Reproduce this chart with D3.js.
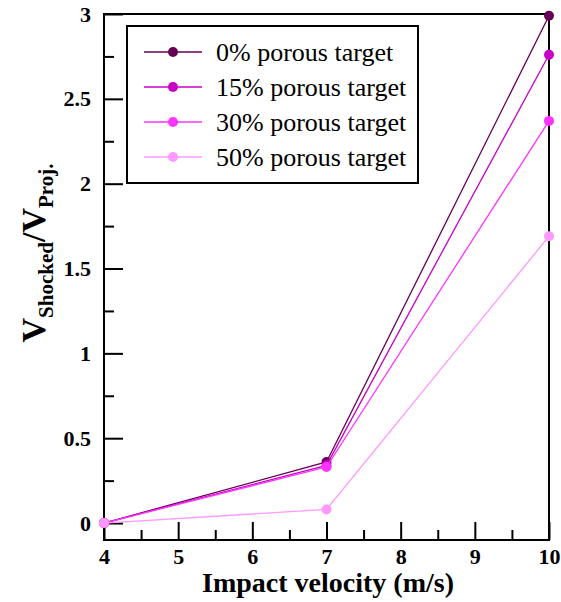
<!DOCTYPE html>
<html>
<head>
<meta charset="utf-8">
<script src="https://cdn.jsdelivr.net/npm/d3@7"></script>
<style>
  body { margin: 0; background: #fff; }
  svg { display: block; }
</style>
</head>
<body>
<svg></svg>
<script>
// chart data
let velocities = [4, 7, 10]
let seriesNames = ['0% porous target', '15% porous target', '30% porous target', '50% porous target']
let porous0 = [0, 0.36, 2.99]
let porous15 = [0, 0.34, 2.76]
let porous30 = [0, 0.33, 2.37]
let porous50 = [0, 0.08, 1.69]
let colors = ['#660055', '#c800c8', '#ff33ff', '#ff99ff']
let xTicks = [4, 5, 6, 7, 8, 9, 10]
let yTicks = [0, 0.5, 1, 1.5, 2, 2.5, 3]

let width = 561
let height = 602
let plotLeft = 104, plotRight = 549, plotTop = 14, plotBottom = 540

let svg = d3.select('svg')
            .attr('width', width)
            .attr('height', height)

let x = d3.scaleLinear().domain([4, 10]).range([plotLeft, plotRight])
let y = d3.scaleLinear().domain([-0.1, 3]).range([plotBottom, plotTop])

// frame
svg.append('rect')
    .attr('x', plotLeft).attr('y', plotTop)
    .attr('width', plotRight - plotLeft).attr('height', plotBottom - plotTop)
    .attr('fill', 'none').attr('stroke', '#000').attr('stroke-width', 2)

// ticks point inward
let xAxis = d3.axisBottom(x).tickValues(xTicks).tickSize(-18).tickPadding(8).tickFormat(d3.format('d'))
svg.append('g').attr('transform', `translate(0,${plotBottom})`).call(xAxis)
let xMinor = d3.axisBottom(x).tickValues(d3.range(4.5, 10, 1)).tickSize(-10).tickFormat('')
svg.append('g').attr('transform', `translate(0,${plotBottom})`).call(xMinor)

let yAxis = d3.axisLeft(y).tickValues(yTicks).tickSize(-19).tickPadding(13).tickFormat(d => d)
svg.append('g').attr('transform', `translate(${plotLeft},0)`).call(yAxis)
let yMinor = d3.axisLeft(y).tickValues(d3.range(0.25, 3, 0.5)).tickSize(-10).tickFormat('')
svg.append('g').attr('transform', `translate(${plotLeft},0)`).call(yMinor)

svg.selectAll('.domain').remove()
svg.selectAll('.tick line').attr('stroke', '#000').attr('stroke-width', 2)
svg.selectAll('.tick text')
    .attr('font-size', 22)
    .attr('font-weight', 'bold')
    .attr('fill', '#000')

// series
let series = [porous0, porous15, porous30, porous50]
let line = d3.line().x((d, i) => x(velocities[i])).y(d => y(d))

series.forEach((vals, k) => {
    let g = svg.append('g')
    g.append('path')
        .attr('d', line(vals))
        .attr('fill', 'none')
        .attr('stroke', colors[k])
        .attr('stroke-width', 1.3)
    g.selectAll('circle')
        .data(vals)
        .enter()
        .append('circle')
        .attr('cx', (d, i) => x(velocities[i]))
        .attr('cy', d => y(d))
        .attr('r', 5)
        .attr('fill', colors[k])
})

// legend
let legend = svg.append('g')
legend.append('rect')
    .attr('x', 127).attr('y', 26)
    .attr('width', 291).attr('height', 157)
    .attr('fill', '#fff').attr('stroke', '#000').attr('stroke-width', 2)

seriesNames.forEach((name, k) => {
    let ly = 52 + k * 35
    legend.append('line')
        .attr('x1', 144).attr('x2', 202)
        .attr('y1', ly).attr('y2', ly)
        .attr('stroke', colors[k]).attr('stroke-width', 1.3)
    legend.append('circle')
        .attr('cx', 173).attr('cy', ly).attr('r', 5)
        .attr('fill', colors[k])
    legend.append('text')
        .attr('x', 216).attr('y', ly + 9)
        .attr('font-size', 26)
        .text(name)
})

// axis titles
svg.append('text')
    .attr('x', 328)
    .attr('y', 592)
    .attr('text-anchor', 'middle')
    .attr('font-size', 28)
    .attr('font-weight', 'bold')
    .text('Impact velocity (m/s)')

let yt = svg.append('text')
    .attr('transform', 'translate(45,253) rotate(-90)')
    .attr('text-anchor', 'middle')
    .attr('font-weight', 'bold')
yt.append('tspan').attr('font-size', 34).text('V')
yt.append('tspan').attr('font-size', 21).attr('dy', 8).text('Shocked')
yt.append('tspan').attr('font-size', 34).attr('dy', -8).text('/V')
yt.append('tspan').attr('font-size', 21).attr('dy', 8).text('Proj.')

svg.selectAll('text').style('font-family', 'Liberation Serif')
</script>
</body>
</html>
